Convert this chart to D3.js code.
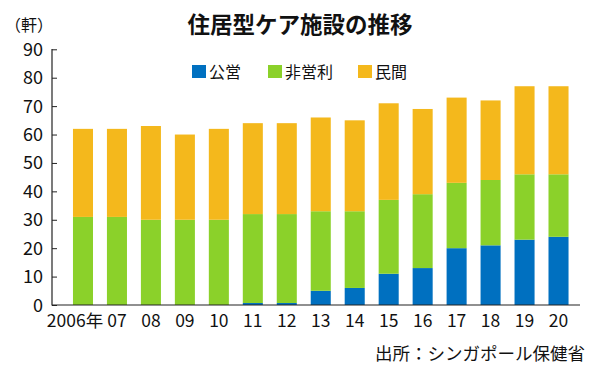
<!DOCTYPE html>
<html><head><meta charset="utf-8">
<script src="https://cdn.jsdelivr.net/npm/d3@7"></script>
<style>body{margin:0;background:#fff}svg{display:block}text{font-family:"Noto Sans CJK JP","Noto Sans",sans-serif}</style>
</head><body><svg id="c" width="600" height="369"></svg>
<script>
const years = ["2006年","07","08","09","10","11","12","13","14","15","16","17","18","19","20"];
const publicV = [0,0,0,0,0,0.7,0.7,5,6,11,13,20,21,23,24];
const nonprofitV = [31,31,30,30,30,31.3,31.3,28,27,26,26,23,23,23,22];
const privateV = [31,31,33,30,32,32,32,33,32,34,30,30,28,31,31];
const seriesNames = ["公営","非営利","民間"];
const colors = ["#0070c0","#8bd12a","#f4b81c"];
const yTicks = [0,10,20,30,40,50,60,70,80,90];

const svg = d3.select("#c");
const data = years.map((y,i)=>({year:y, "公営":publicV[i], "非営利":nonprofitV[i], "民間":privateV[i]}));
const stack = d3.stack().keys(seriesNames)(data);

const x = d3.scaleBand().domain(years).range([66,575.5]).paddingInner(0.41).paddingOuter(0.205);
const y = d3.scaleLinear().domain([0,90]).range([305,49.3]);

svg.append("g").selectAll("g").data(stack).join("g")
  .attr("fill",(d,i)=>colors[i])
  .selectAll("rect").data(d=>d).join("rect")
  .attr("x",d=>x(d.data.year)).attr("width",x.bandwidth())
  .attr("y",d=>y(d[1])).attr("height",d=>y(d[0])-y(d[1]));

// y axis
const ya = svg.append("g").attr("transform","translate(52,0)")
  .call(d3.axisRight(y).tickValues(yTicks).tickSize(5).tickFormat(""));
ya.select(".domain").remove();
ya.selectAll("line").attr("stroke","#222");
svg.append("line").attr("x1",52).attr("x2",52).attr("y1",49).attr("y2",305.5).attr("stroke","#222").attr("stroke-width",1.2);
svg.append("g").selectAll("text").data(yTicks).join("text")
  .attr("x",43).attr("y",d=>y(d)+6.5).attr("text-anchor","end")
  .attr("font-size",18).attr("fill","#111").text(d=>d);

// x axis
svg.append("line").attr("x1",52).attr("x2",580).attr("y1",305).attr("y2",305).attr("stroke","#222").attr("stroke-width",1.2);
svg.append("g").selectAll("text").data(years).join("text")
  .attr("x",(d,i)=>x(d)+x.bandwidth()/2 + (i===0?-8:0)).attr("y",327)
  .attr("text-anchor","middle").attr("font-size",17.5).attr("fill","#111").text(d=>d);

// title
svg.append("text").attr("x",300).attr("y",33).attr("text-anchor","middle")
  .attr("font-size",22.5).attr("font-weight","bold").attr("fill","#111").text("住居型ケア施設の推移");
svg.append("text").attr("x",5).attr("y",31).attr("font-size",16).attr("fill","#111").text("（軒）");

// legend
const legX = [192,268,358];
const lg = svg.append("g").selectAll("g").data(seriesNames).join("g")
  .attr("transform",(d,i)=>`translate(${legX[i]},65)`);
lg.append("rect").attr("width",14).attr("height",13).attr("fill",(d,i)=>colors[i]);
lg.append("text").attr("x",17).attr("y",12.5).attr("font-size",16).attr("fill","#111").text(d=>d);

// source
svg.append("text").attr("x",585).attr("y",360).attr("text-anchor","end")
  .attr("font-size",17.5).attr("fill","#111").text("出所：シンガポール保健省");
</script></body></html>
